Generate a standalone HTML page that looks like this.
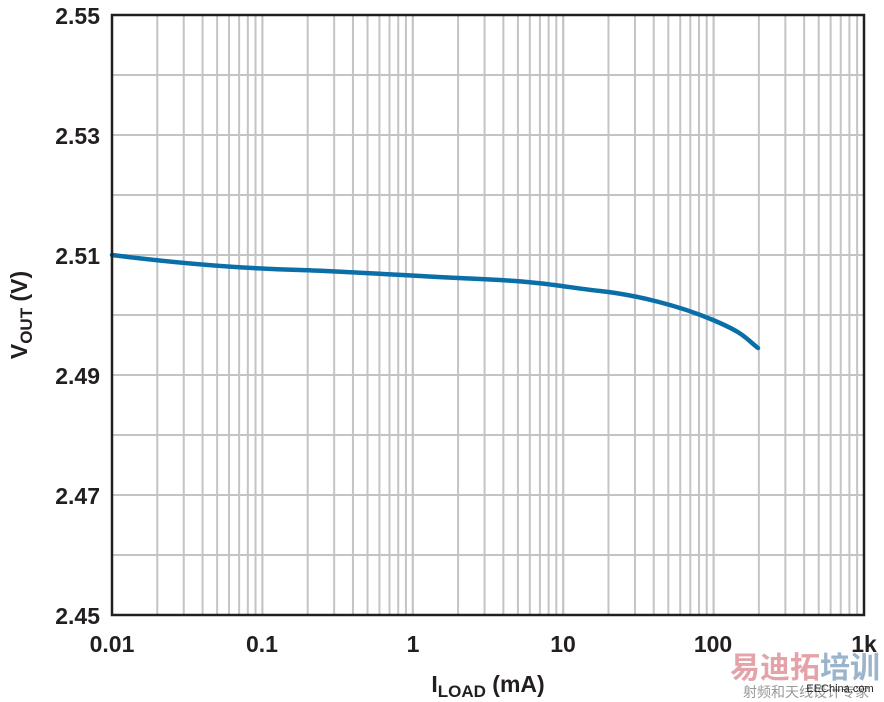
<!DOCTYPE html><html><head><style>body{margin:0;background:#fff}svg{display:block}</style></head><body>
<svg id="s" width="884" height="702" xmlns="http://www.w3.org/2000/svg" font-family="Liberation Sans, Arial, sans-serif" font-weight="bold">
<g id="g"></g>
<path d="M112,255 C200,266 262,269 300,270 S413,276 480,279 S563,287 600,291 S680,306 713,320 S745,338 758,348" fill="none" stroke="#0a6fa8" stroke-width="4.5" stroke-linecap="round"/>
<rect x="112" y="15" width="752" height="600" fill="none" stroke="#231f20" stroke-width="2.5"/>
<g font-size="23" fill="#231f20" text-anchor="end">
<text x="100" y="24">2.55</text><text x="100" y="144">2.53</text><text x="100" y="264">2.51</text><text x="100" y="384">2.49</text><text x="100" y="504">2.47</text><text x="100" y="624">2.45</text>
</g>
<g font-size="23" fill="#231f20" text-anchor="middle">
<text x="112" y="652">0.01</text><text x="262" y="652">0.1</text><text x="413" y="652">1</text><text x="563" y="652">10</text><text x="713" y="652">100</text><text x="864" y="652">1k</text>
<text x="488" y="692">I<tspan font-size="17" dy="5">LOAD</tspan><tspan dy="-5"> (mA)</tspan></text>
</g>
<text transform="translate(27,315) rotate(-90)" font-size="23" fill="#231f20" text-anchor="middle">V<tspan font-size="17" dy="5">OUT</tspan><tspan dy="-5"> (V)</tspan></text>
<text x="805" y="678" font-size="30" fill="#e4a3a8" text-anchor="middle" font-family="Noto Sans CJK SC, sans-serif">易迪拓<tspan fill="#9bb4cc">培训</tspan></text>
<text x="806" y="697" font-size="14" fill="#999" text-anchor="middle" font-weight="normal" font-family="Noto Sans CJK SC, sans-serif">射频和天线设计专家</text>
<text x="840" y="692" font-size="11" fill="#222" text-anchor="middle" font-weight="normal">EEChina.com</text>
</svg>
<script>
var g=document.getElementById('g'),h='';
for(var d=0;d<5;d++)for(var m=1;m<=10;m++){var x=112+150.4*(d+Math.log10(m));if(x>112.5&&x<863.5)h+='<line x1="'+x+'" y1="15" x2="'+x+'" y2="615" stroke="#c4c4c6" stroke-width="2"/>';}
for(var i=1;i<10;i++){var y=15+i*60;h+='<line x1="112" y1="'+y+'" x2="864" y2="'+y+'" stroke="#c4c4c6" stroke-width="2"/>';}
g.innerHTML=h;
</script>
</body></html>
